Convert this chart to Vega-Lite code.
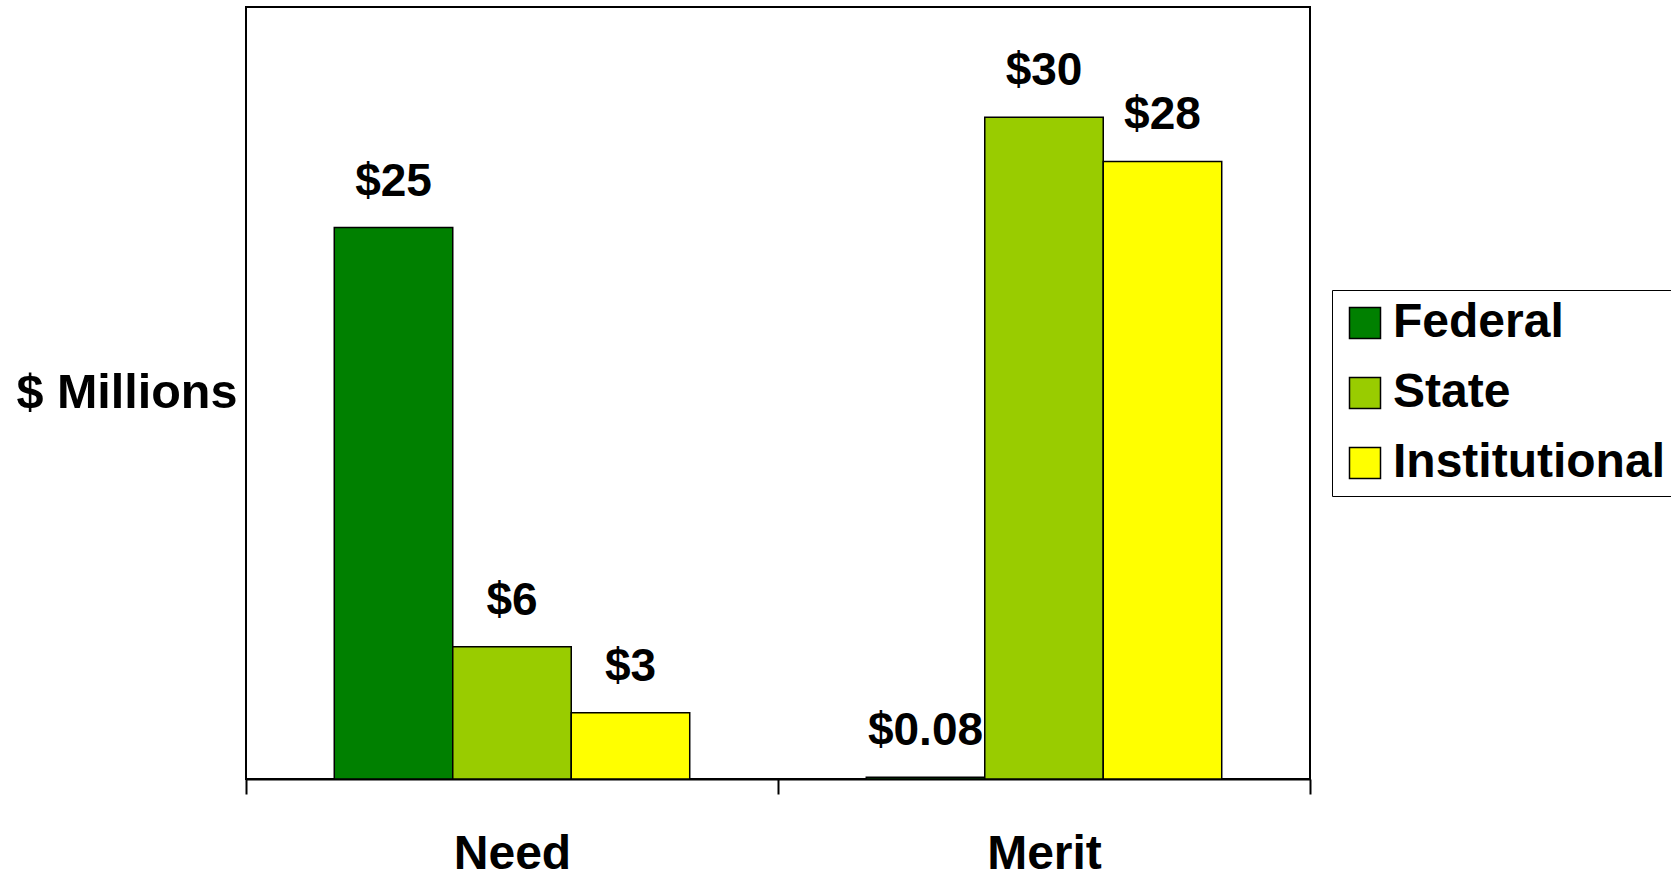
{
  "$schema": "https://vega.github.io/schema/vega-lite/v6.json",
  "width": 1064,
  "height": 772,
  "autosize": {"type": "none"},
  "padding": {"left": 246, "top": 7, "right": 361, "bottom": 94},
  "background": "white",
  "config": {"view": {"stroke": "black", "strokeWidth": 2}, "font": "Liberation Sans"},
  "data": {"values": [
    {"type": "Need", "source": "Federal", "value": 25},
    {"type": "Need", "source": "State", "value": 6},
    {"type": "Need", "source": "Institutional", "value": 3},
    {"type": "Merit", "source": "Federal", "value": 0.08},
    {"type": "Merit", "source": "State", "value": 30},
    {"type": "Merit", "source": "Institutional", "value": 28}
  ]},
  "encoding": {
    "x": {"field": "type", "type": "nominal", "sort": ["Need", "Merit"],
      "scale": {"paddingInner": 0, "paddingOuter": 0},
      "axis": {"title": null, "labelAngle": 0, "tickBand": "extent", "tickSize": 15, "tickColor": "black", "tickWidth": 2,
        "domainColor": "black", "domainWidth": 2, "labelFont": "Liberation Sans", "labelFontWeight": "bold",
        "labelFontSize": 48, "labelColor": "black", "labelBaseline": "alphabetic", "labelPadding": 74}},
    "xOffset": {"field": "source", "type": "nominal", "sort": ["Federal", "State", "Institutional"],
      "scale": {"paddingInner": 0, "paddingOuter": 0.745}},
    "y": {"field": "value", "type": "quantitative", "scale": {"domain": [0, 35], "nice": false},
      "axis": {"title": "$ Millions", "titleAngle": 0, "titleAlign": "left", "titleBaseline": "alphabetic",
        "titleX": -230, "titleY": 400, "titleFontSize": 48.5, "titleFontWeight": "bold", "titleColor": "black",
        "titleFont": "Liberation Sans", "labels": false, "ticks": false, "domain": false, "grid": false}}
  },
  "layer": [
    {"mark": {"type": "bar", "stroke": "black", "strokeWidth": 1.5},
      "encoding": {"color": {"field": "source", "type": "nominal",
        "scale": {"domain": ["Federal", "State", "Institutional"], "range": ["#008000", "#99CC00", "#FFFF00"]},
        "legend": {"title": null, "orient": "none", "legendX": 1086, "legendY": 283, "symbolType": "square",
          "symbolSize": 961, "symbolStrokeColor": "black", "symbolStrokeWidth": 1.5, "symbolOpacity": 1,
          "labelFontSize": 48, "labelFont": "Liberation Sans", "labelFontWeight": "bold", "labelColor": "black",
          "labelOffset": 4, "rowPadding": 22, "padding": 9, "strokeColor": "black", "fillColor": "white",
          "labelLimit": 500}}}},
    {"mark": {"type": "text", "baseline": "alphabetic", "dy": -32, "fontSize": 46, "fontWeight": "bold",
      "font": "Liberation Sans", "color": "black"},
      "encoding": {"text": {"field": "value", "type": "quantitative", "format": "$"}}}
  ]
}
